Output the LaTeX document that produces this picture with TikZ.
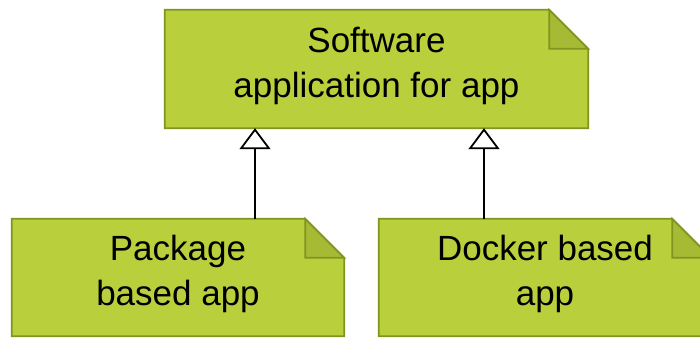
\documentclass[tikz,border=0pt]{standalone}
\usepackage{fontspec}
\setmainfont{Liberation Sans}
\usetikzlibrary{arrows.meta,backgrounds,positioning}

\definecolor{notegreen}{RGB}{186,207,60}
\definecolor{noteedge}{RGB}{128,148,32}
\definecolor{notefold}{RGB}{166,186,52}

\tikzset{
  note/.style={inner sep=0, minimum height=117pt, minimum width=332pt,
    text depth=14pt, align=center, font=\fontsize{35}{45}\selectfont},
  inherits/.style={line width=1.8pt, -{Triangle[open,width=31pt,length=21pt]}},
}
\newcommand{\foldsize}{39pt}

\begin{document}
\begin{tikzpicture}
  \useasboundingbox (0,0) rectangle (700pt,338pt);

  % The parent note on top.
  \node[note, minimum width=423pt, minimum height=118pt] (software)
    at (376.5pt,269pt) {Software\\application for app};

  % The two notes below it.
  \node[note] (package) at (178pt,60.5pt) {Package\\based app};
  \node[note] (docker) at (545pt,60.5pt) {Docker based\\app};

  % Dog-eared outlines, drawn behind the text.
  \begin{scope}[on background layer]
    \foreach \n in {software,package,docker}
    {
      \filldraw[fill=notegreen, draw=noteedge, line width=1.8pt]
        (\n.south west) -- (\n.north west) -- ([xshift=-\foldsize]\n.north east)
        -- ([yshift=-\foldsize]\n.north east) -- (\n.south east) -- cycle;
      \filldraw[fill=notefold, draw=noteedge, line width=1.8pt]
        ([xshift=-\foldsize]\n.north east) -- ([yshift=-\foldsize]\n.north east)
        -- ([shift={(-\foldsize,-\foldsize)}]\n.north east) -- cycle;
    }
  \end{scope}

  % Foot points of the two arrows.
  \coordinate (packagefoot) at ([xshift=77pt]package.north);
  \coordinate (dockerfoot) at ([xshift=-61pt]docker.north);

  \draw[inherits] (packagefoot) -- (packagefoot |- software.south);
  \draw[inherits] (dockerfoot) -- (dockerfoot |- software.south);
\end{tikzpicture}
\end{document}
